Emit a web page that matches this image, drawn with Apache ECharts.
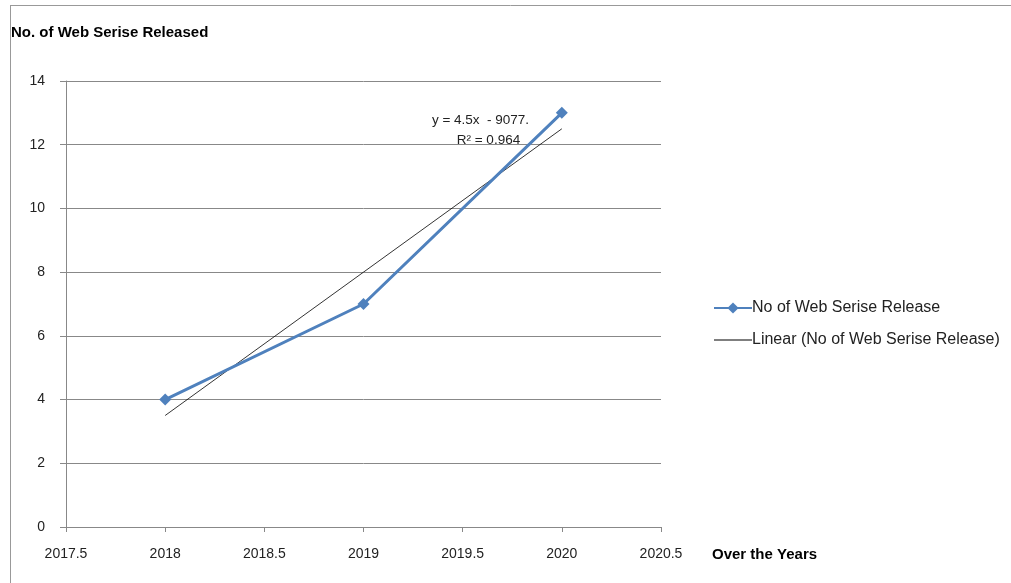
<!DOCTYPE html>
<html><head><meta charset="utf-8">
<script src="https://cdn.jsdelivr.net/npm/echarts@6/dist/echarts.min.js"></script>
<style>html,body{margin:0;padding:0;background:#fff}#c{width:1011px;height:583px}</style>
</head><body><div id="c"></div>
<script>
const years = [2018, 2019, 2020];
const releases = [4, 7, 13];
const trendYears = [2018, 2020];
const trendValues = [3.5, 12.5];
const trendLabel = ['y = 4.5x  - 9077.', 'R² = 0.964'];
const seriesName = 'No of Web Serise Release';
const trendName = 'Linear (No of Web Serise Release)';
const yTitle = 'No. of Web Serise Released';
const xTitle = 'Over the Years';

const font = 'Liberation Sans, Arial, sans-serif';
const chart = echarts.init(document.getElementById('c'));
chart.setOption({
  animation: false,
  backgroundColor: '#fff',
  textStyle: {fontFamily: font},
  title: {text: yTitle, left: 6, top: 20, textStyle: {fontSize: 15, fontWeight: 'bold', color: '#000', fontFamily: font}},
  grid: {left: 66, right: 350, top: 81, bottom: 56},
  legend: {
    orient: 'vertical', left: 708, top: 295, itemGap: 16, itemWidth: 38, itemHeight: 14,
    textStyle: {fontSize: 16, color: '#222', fontFamily: font, padding: [0,0,0,-5]},
    data: [seriesName, {name: trendName, icon: 'path://M0,0H40V1H0Z'}]
  },
  xAxis: {
    type: 'value', min: 2017.5, max: 2020.5, interval: 0.5,
    name: xTitle, nameLocation: 'end', nameGap: 0,
    nameTextStyle: {fontSize: 15, fontWeight: 'bold', color: '#000', padding: [20,0,0,51], align: 'left', verticalAlign: 'top'},
    axisLine: {lineStyle: {color: '#888'}},
    axisTick: {show: true, length: 5, lineStyle: {color: '#888'}},
    axisLabel: {color: '#222', fontSize: 14, margin: 20, fontFamily: font, formatter: v => String(v)},
    splitLine: {show: false}
  },
  yAxis: {
    type: 'value', min: 0, max: 14, interval: 2,
    axisLine: {show: true, lineStyle: {color: '#888'}},
    axisTick: {show: true, length: 6, lineStyle: {color: '#888'}},
    axisLabel: {color: '#222', fontSize: 14, margin: 21, fontFamily: font},
    splitLine: {show: true, lineStyle: {color: '#888', width: 1}}
  },
  series: [
    {
      name: trendName, type: 'line', data: trendYears.map((x, i) => [x, trendValues[i]]),
      symbol: 'none', lineStyle: {color: '#000', width: 0.8}, itemStyle: {color: '#000'},
      markPoint: {
        symbol: 'rect', symbolSize: 0,
        data: [{coord: [2019.59, 12.78], label: {show: true, position: 'inside', formatter: trendLabel[0], color: '#222', fontSize: 13.5, fontFamily: font}},
               {coord: [2019.63, 12.15], label: {show: true, position: 'inside', formatter: trendLabel[1], color: '#222', fontSize: 13.5, fontFamily: font}}]
      }
    },
    {
      name: seriesName, type: 'line', data: years.map((x, i) => [x, releases[i]]),
      symbol: 'diamond', symbolSize: 12, showSymbol: true,
      lineStyle: {color: '#4F81BD', width: 3}, itemStyle: {color: '#4F81BD'}
    }
  ],
  graphic: [
    {type: 'line', shape: {x1: 10.5, y1: 5, x2: 10.5, y2: 583}, style: {stroke: '#999', lineWidth: 1}, silent: true},
    {type: 'line', shape: {x1: 10, y1: 5.5, x2: 1011, y2: 5.5}, style: {stroke: '#999', lineWidth: 1}, silent: true}
  ]
});
</script></body></html>
